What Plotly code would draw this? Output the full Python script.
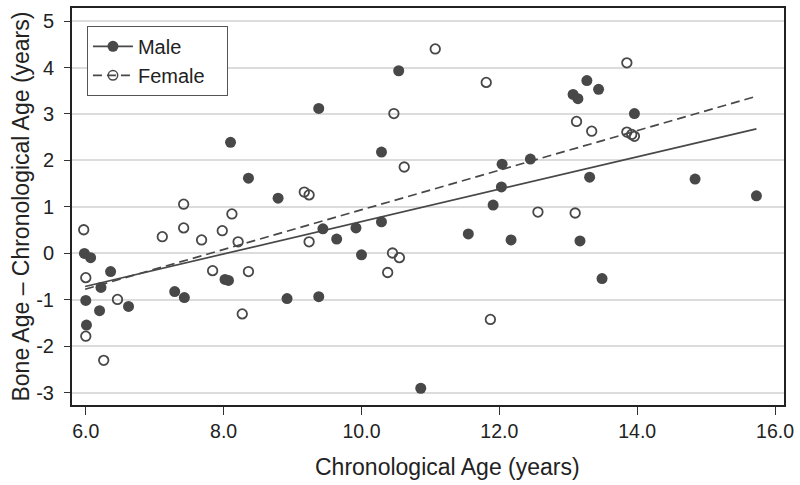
import plotly.graph_objects as go

# Male (filled circles)
male_age = [5.98, 6.07, 6.22, 6.36, 6.00, 6.20, 6.62, 6.01, 7.29, 7.43,
            8.02, 8.07, 8.10, 8.36, 8.79, 8.92, 9.38, 9.38, 9.44, 9.64,
            9.92, 10.00, 10.29, 10.29, 10.54, 10.86, 11.55, 11.91, 12.03, 12.04,
            12.17, 12.45, 13.07, 13.14, 13.27, 13.44, 13.96, 13.31, 13.17, 13.49,
            14.84, 15.73]
male_diff = [0.00, -0.09, -0.73, -0.39, -1.01, -1.23, -1.14, -1.54, -0.82, -0.95,
             -0.56, -0.58, 2.39, 1.62, 1.19, -0.97, 3.12, -0.93, 0.53, 0.31,
             0.55, -0.03, 0.68, 2.18, 3.93, -2.90, 0.42, 1.04, 1.43, 1.92,
             0.29, 2.03, 3.42, 3.33, 3.72, 3.53, 3.01, 1.64, 0.27, -0.54,
             1.60, 1.24]

# Female (open circles)
female_age = [5.97, 6.00, 6.46, 6.00, 6.26, 7.11, 7.42, 7.42, 7.68, 7.84,
              7.98, 8.12, 8.21, 8.27, 8.36, 9.17, 9.24, 9.24, 10.38, 10.45,
              10.55, 10.47, 10.62, 11.07, 11.81, 11.87, 12.56, 13.10, 13.12, 13.34,
              13.85, 13.85, 13.92, 13.96]
female_diff = [0.51, -0.52, -0.99, -1.78, -2.30, 0.36, 1.06, 0.55, 0.29, -0.37,
               0.49, 0.85, 0.25, -1.30, -0.39, 1.32, 1.26, 0.25, -0.41, 0.01,
               -0.09, 3.01, 1.86, 4.40, 3.68, -1.42, 0.89, 0.87, 2.84, 2.63,
               4.10, 2.61, 2.56, 2.52]

# regression line end points
fit_age = [5.99, 15.73]
male_fit = [-0.71, 2.68]
female_fit = [-0.77, 3.38]

x_ticks = [6, 8, 10, 12, 14, 16]
y_ticks = [-3, -2, -1, 0, 1, 2, 3, 4, 5]

ink = "#484848"
clear = "rgba(0,0,0,0)"
font_main = "Liberation Sans, Arial, sans-serif"
title_font = dict(size=23, family=font_main, color="#222222")

fig = go.Figure()

fig.add_trace(go.Scatter(
    x=male_age, y=male_diff, mode="markers", showlegend=False,
    marker=dict(symbol="circle", size=11, color=ink, line=dict(width=0)),
))
fig.add_trace(go.Scatter(
    x=female_age, y=female_diff, mode="markers", showlegend=False,
    marker=dict(symbol="circle-open", size=9.5, color=ink, line=dict(width=1.8, color=ink)),
))

# fit lines carry the legend entries; the leading None point only sets the legend marker
fig.add_trace(go.Scatter(
    x=[None] + fit_age, y=[None] + male_fit, mode="lines+markers", name="Male",
    line=dict(color=ink, width=1.7),
    marker=dict(symbol="circle", size=11, color=[ink, clear, clear], line=dict(width=0)),
))
fig.add_trace(go.Scatter(
    x=[None] + fit_age, y=[None] + female_fit, mode="lines+markers", name="Female   ",
    line=dict(color=ink, width=1.7, dash="9px,5px"),
    marker=dict(symbol="circle-open", size=9.5, color=[ink, clear, clear],
                line=dict(width=1.5, color=[ink, clear, clear])),
))

fig.update_layout(
    width=800, height=485,
    margin=dict(l=72, r=13, t=6, b=80),
    plot_bgcolor="white", paper_bgcolor="white",
    font=dict(family=font_main, color="#222222"),
    legend=dict(
        x=0.021, y=0.955, xanchor="left", yanchor="top",
        bordercolor="#555555", borderwidth=1, bgcolor="white",
        font=dict(size=20, family=font_main, color="#222222"),
        itemwidth=40, tracegroupgap=0,
    ),
    annotations=[
        dict(text="Bone Age \u2013 Chronological Age (years)",
             xref="paper", yref="paper", x=-0.073, y=0.5,
             xanchor="center", yanchor="middle", textangle=-90, showarrow=False,
             font=title_font),
        dict(text="Chronological Age (years)",
             xref="paper", yref="paper", x=0.528, y=-0.155,
             xanchor="center", yanchor="middle", showarrow=False,
             font=title_font),
    ],
)

fig.update_xaxes(
    range=[5.80, 16.13], tickvals=x_ticks, tickformat=".1f",
    showgrid=False, zeroline=False,
    showline=True, mirror=True, linecolor="#222222", linewidth=2,
    ticks="outside", ticklen=8, tickcolor="#333333", tickwidth=1,
    tickfont=dict(size=19.5, family=font_main, color="#222222"),
)
fig.update_yaxes(
    range=[-3.26, 5.28], tickvals=y_ticks, ticktext=[str(v) for v in y_ticks],
    showgrid=True, gridcolor="#dcdcdc", gridwidth=1.5, zeroline=False,
    showline=True, mirror=True, linecolor="#222222", linewidth=2,
    ticks="outside", ticklen=6, tickcolor="#333333", tickwidth=1,
    ticklabelstandoff=6,
    tickfont=dict(size=20, family=font_main, color="#222222"),
)

# drop the page's default body margin so the figure sits at the window's corner
fig.write_html("out.html", config={"displayModeBar": False},
               post_script="document.body.style.margin='0';")
